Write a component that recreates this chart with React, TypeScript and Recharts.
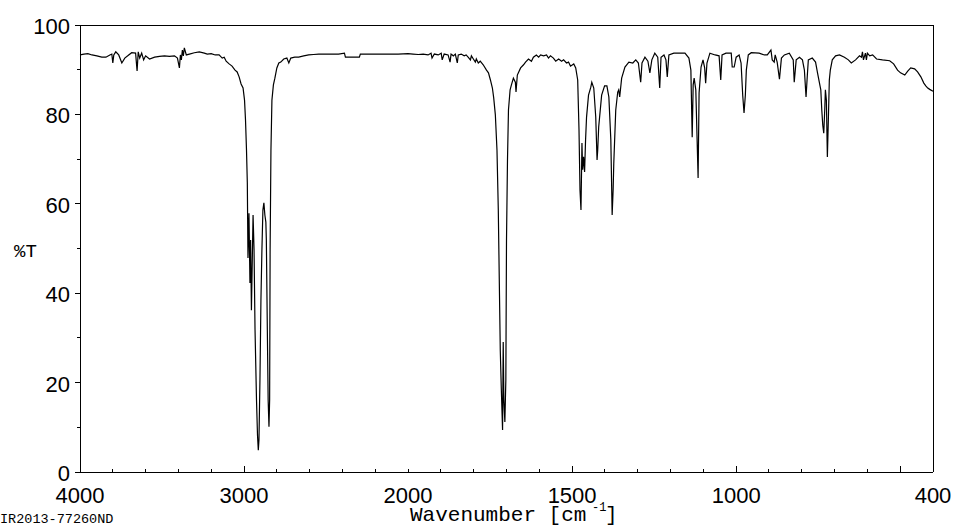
import { LineChart, Line, XAxis, YAxis } from "recharts";

// wavenumber (cm-1), high to low
const wavenumber = [
  4000, 3976, 3952, 3927, 3897, 3867, 3842, 3818, 3806, 3800, 3794, 3782, 3764, 3745, 3727, 3709,
  3685, 3661, 3652, 3645, 3636, 3624, 3612, 3600, 3576, 3545, 3515, 3485, 3455, 3424, 3406, 3394,
  3388, 3382, 3376, 3370, 3364, 3352, 3333, 3303, 3273, 3242, 3224, 3200, 3176, 3152, 3133, 3121,
  3109, 3091, 3073, 3055, 3042, 3030, 3018, 3006, 2997, 2991, 2985, 2980, 2976, 2970, 2964, 2960,
  2955, 2945, 2939, 2933, 2924, 2918, 2913, 2909, 2903, 2897, 2891, 2885, 2879, 2873, 2867, 2864,
  2858, 2853, 2848, 2844, 2841, 2836, 2830, 2821, 2812, 2800, 2788, 2776, 2758, 2739, 2727, 2715,
  2691, 2667, 2636, 2606, 2576, 2545, 2485, 2424, 2388, 2382, 2333, 2297, 2291, 2242, 2182, 2121,
  2061, 2000,
  1985, 1969, 1954, 1939, 1930, 1927, 1920, 1908, 1899, 1896, 1890, 1878, 1872, 1869, 1862, 1856,
  1850, 1847, 1838, 1829, 1823, 1817, 1810, 1807, 1801, 1795, 1792, 1786, 1780, 1771, 1761, 1755,
  1749, 1743, 1739, 1734, 1729, 1725, 1722, 1719, 1716, 1712, 1710, 1708, 1705, 1702, 1700, 1697,
  1694, 1689, 1685, 1679, 1673, 1671, 1667, 1657, 1648, 1642, 1633, 1624, 1618, 1609, 1602, 1596,
  1587, 1578, 1572, 1566, 1557, 1550, 1541, 1532, 1526, 1517, 1511, 1505, 1495, 1489, 1483, 1479,
  1476, 1473, 1470, 1468, 1465, 1462, 1459, 1456, 1450, 1443, 1440, 1434, 1428, 1424, 1422, 1419,
  1410, 1401, 1394, 1388, 1382, 1378, 1375, 1373, 1367, 1361, 1358, 1355, 1349, 1339, 1327, 1315,
  1306, 1298, 1291, 1287, 1278, 1269, 1263, 1257, 1248, 1239, 1233, 1229, 1220, 1214, 1210, 1205,
  1190, 1174, 1156, 1144, 1138, 1134, 1131, 1128, 1123, 1119, 1116, 1113, 1107, 1101, 1096, 1093,
  1089, 1080, 1064, 1052, 1047, 1043, 1031, 1015, 1012, 1006, 1000, 991, 985, 980, 976, 972,
  969, 963, 954, 930, 914, 905, 894, 890, 884, 881, 875, 868, 862, 853, 838, 826,
  823, 817, 807, 798, 792, 787, 783, 780, 768, 758, 752, 746, 742, 739, 736, 733,
  730, 728, 725, 722, 719, 716, 713, 707, 697, 685, 670, 658, 649, 636, 624, 618,
  615, 612, 606, 603, 600, 593, 584, 572, 554, 532, 520, 508, 499, 486, 477, 468,
  456, 447, 437, 428, 422, 416, 410, 400,
];

// %T at each wavenumber above
const transmittance = [
  93.3, 93.5, 93.6, 93.3, 93.1, 92.8, 92.8, 93.3, 93.5, 91.5, 93.3, 94.0, 93.3, 91.5, 92.6, 93.1,
  93.8, 93.7, 89.7, 94.0, 92.6, 93.7, 92.2, 93.1, 92.4, 92.8, 93.0, 93.1, 93.0, 93.1, 92.6, 90.4,
  93.3, 92.2, 94.4, 93.1, 94.9, 93.3, 93.5, 93.8, 94.0, 93.7, 93.5, 93.6, 93.3, 93.3, 92.6, 92.8,
  91.9, 91.3, 90.8, 89.9, 89.5, 88.4, 86.8, 85.9, 83.2, 78.7, 72.0, 64.7, 47.9, 57.9, 42.3, 51.9,
  36.2, 57.5, 49.7, 31.8, 16.1, 8.3, 4.9, 7.2, 20.6, 38.5, 49.7, 58.6, 60.2, 57.5, 55.9, 51.9,
  31.8, 16.1, 10.1, 16.1, 49.7, 72.0, 83.2, 86.6, 88.1, 90.4, 91.5, 91.7, 92.4, 92.6, 91.5, 92.6,
  92.8, 92.8, 93.1, 93.3, 93.4, 93.5, 93.5, 93.5, 93.7, 92.8, 92.8, 92.8, 93.5, 93.5, 93.5, 93.5,
  93.5, 93.6,
  93.5, 93.4, 93.5, 93.3, 93.7, 92.6, 93.5, 93.3, 93.7, 92.2, 93.5, 93.3, 91.7, 93.5, 93.1, 93.5,
  91.5, 93.3, 93.5, 93.1, 93.3, 92.8, 92.2, 93.1, 92.4, 91.7, 92.4, 91.5, 91.9, 91.1, 89.9, 89.3,
  87.7, 85.9, 83.7, 79.9, 72.0, 58.6, 43.0, 27.3, 19.0, 9.4, 29.1, 16.1, 11.2, 20.6, 51.9, 69.8,
  81.0, 85.5, 86.6, 88.1, 87.2, 85.0, 88.8, 90.4, 91.1, 91.7, 92.4, 91.9, 92.8, 93.3, 92.8, 93.3,
  93.1, 93.3, 92.6, 93.1, 92.6, 91.9, 92.4, 91.9, 92.2, 91.5, 91.7, 90.8, 91.3, 90.4, 87.7, 76.5,
  63.1, 58.6, 73.6, 67.6, 70.5, 67.1, 74.3, 79.4, 84.3, 86.1, 87.2, 85.9, 79.4, 69.8, 72.0, 77.2,
  84.3, 86.4, 86.4, 83.9, 74.3, 57.5, 63.1, 69.1, 81.0, 85.0, 85.5, 83.9, 88.1, 90.6, 91.7, 91.5,
  92.2, 91.5, 87.2, 91.5, 92.8, 91.9, 89.3, 92.2, 93.7, 92.8, 85.9, 92.8, 93.3, 92.2, 88.4, 93.3,
  93.7, 93.7, 93.7, 92.6, 89.9, 74.9, 86.6, 88.1, 85.5, 74.3, 65.8, 84.8, 90.6, 92.2, 90.4, 87.0,
  91.5, 93.7, 93.3, 93.1, 87.7, 93.3, 93.7, 93.7, 90.6, 90.6, 92.8, 93.3, 91.5, 84.3, 80.3, 84.3,
  89.9, 93.3, 93.8, 93.7, 93.3, 93.3, 94.4, 92.2, 91.7, 93.3, 91.7, 87.9, 92.6, 93.3, 93.7, 92.2,
  87.2, 92.2, 92.8, 92.2, 89.9, 83.9, 88.8, 92.2, 92.6, 91.7, 89.3, 87.0, 85.5, 81.0, 77.6, 75.8,
  81.0, 85.5, 83.2, 70.5, 78.7, 87.7, 89.9, 92.2, 93.1, 93.3, 92.8, 92.2, 91.5, 92.2, 93.1, 92.8,
  94.0, 92.2, 93.7, 92.2, 93.7, 93.1, 93.3, 92.4, 92.2, 92.0, 91.3, 89.9, 89.3, 88.8, 89.7, 90.4,
  90.2, 89.5, 88.4, 87.0, 86.4, 85.9, 85.6, 85.2,
];

const xTickValues = [
  4000, 3800, 3600, 3400, 3200, 3000, 2800, 2600, 2400, 2200, 2000, 1900, 1800, 1700, 1600, 1500,
  1400, 1300, 1200, 1100, 1000, 900, 800, 700, 600, 500, 400,
];
const xLabelValues = [4000, 3000, 2000, 1500, 1000, 400];
const xTallTicks = [3000, 1500, 1000, 500];
const yTickValues = [0, 10, 20, 30, 40, 50, 60, 70, 80, 90, 100];

// above 2000 cm-1 the axis is compressed by half
const toAxis = (wn: number) => (wn > 2000 ? 2000 + (wn - 2000) / 2 : wn);
const fromAxis = (t: number) => Math.round(t > 2000 ? 2000 + (t - 2000) * 2 : t);

const data = wavenumber.map((wn, i) => ({ t: toAxis(wn), T: transmittance[i] }));

const sans = "'Liberation Sans', Arial, sans-serif";
const mono = "'Liberation Mono', 'Courier New', monospace";

const XTick = ({ x, y, payload }: any) => {
  const wn = fromAxis(payload.value);
  const len = xTallTicks.includes(wn) ? 6 : 3;
  const edge = wn === 4000 || wn === 400;
  return (
    <g>
      {!edge && (
        <line x1={x} x2={x} y1={y} y2={y - len} stroke="#000" shapeRendering="crispEdges" />
      )}
      {xLabelValues.includes(wn) && (
        <text x={x} y={y + 31} textAnchor="middle" fontFamily={sans} fontSize={22} fill="#000">
          {wn}
        </text>
      )}
    </g>
  );
};

const YTick = ({ x, y, payload }: any) => {
  const v = payload.value;
  const major = v % 20 === 0;
  return (
    <g>
      <line x1={x - (major ? 5 : 3)} x2={x} y1={y} y2={y} stroke="#000" shapeRendering="crispEdges" />
      {major && (
        <text x={x - 10} y={y + 9} textAnchor="end" fontFamily={sans} fontSize={22} fill="#000">
          {v}
        </text>
      )}
    </g>
  );
};

const XLabel = () => (
  <g>
    <text x={410} y={521} fontFamily={mono} fontSize={21} fill="#000">
      Wavenumber [cm
    </text>
    <text x={592} y={511} fontFamily={mono} fontSize={12} fill="#000">
      -1
    </text>
    <text x={605} y={521} fontFamily={mono} fontSize={21} fill="#000">
      ]
    </text>
    <text x={0} y={523} fontFamily={mono} fontSize={13.5} fill="#000">
      IR2013-77260ND
    </text>
  </g>
);

const YLabel = () => (
  <text x={14} y={257} fontFamily={mono} fontSize={19} fill="#000">
    %T
  </text>
);

export default function App() {
  return (
    <div style={{ position: "absolute", left: 0, top: 0, width: 959, height: 528, background: "#fff" }}>
      <LineChart width={959} height={528} data={data} margin={{ top: 24, right: 25, bottom: 0, left: 20 }}>
        <XAxis
          dataKey="t"
          type="number"
          domain={[400, 3000]}
          reversed
          ticks={xTickValues.map(toAxis)}
          interval={0}
          tickSize={0}
          tickMargin={0}
          tickLine={false}
          tick={<XTick />}
          height={56}
          axisLine={{ stroke: "#000", shapeRendering: "crispEdges" }}
          label={<XLabel />}
        />
        <XAxis
          xAxisId="top"
          orientation="top"
          type="number"
          domain={[400, 3000]}
          reversed
          height={1}
          tick={false}
          tickLine={false}
          axisLine={{ stroke: "#000", shapeRendering: "crispEdges" }}
        />
        <YAxis
          type="number"
          domain={[0, 100]}
          ticks={yTickValues}
          interval={0}
          tickSize={0}
          tickMargin={0}
          tickLine={false}
          tick={<YTick />}
          width={60}
          axisLine={{ stroke: "#000", shapeRendering: "crispEdges" }}
          label={<YLabel />}
        />
        <YAxis
          yAxisId="right"
          orientation="right"
          type="number"
          domain={[0, 100]}
          width={1}
          tick={false}
          tickLine={false}
          axisLine={{ stroke: "#000", shapeRendering: "crispEdges" }}
        />
        <Line
          type="linear"
          dataKey="T"
          stroke="#000"
          strokeWidth={1.2}
          dot={false}
          isAnimationActive={false}
        />
      </LineChart>
    </div>
  );
}
